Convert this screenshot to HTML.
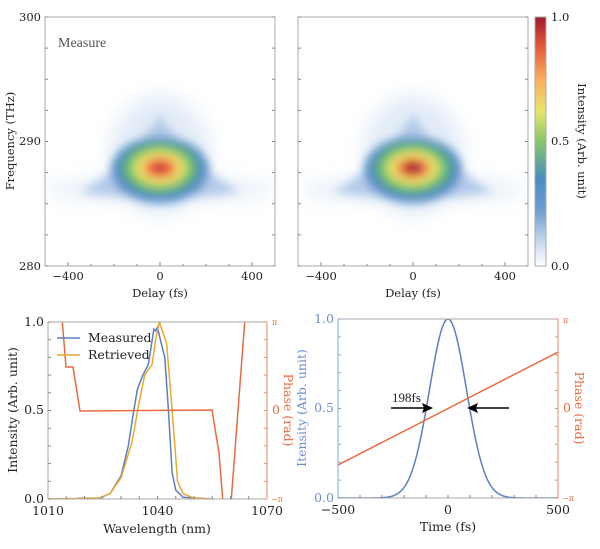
<!DOCTYPE html>
<html><head><meta charset="utf-8"><style>
body{margin:0;background:#fff;width:600px;height:544px;overflow:hidden}
svg text{font-family:"DejaVu Serif","Liberation Serif",serif;font-size:11.5px;fill:#222}
</style></head><body>
<svg id="s" width="600" height="544" viewBox="0 0 600 544" xmlns="http://www.w3.org/2000/svg">
<defs>
<filter id="bl" x="-50%" y="-50%" width="200%" height="200%"><feGaussianBlur stdDeviation="4.5"/></filter>
<filter id="bl2" x="-50%" y="-50%" width="200%" height="200%"><feGaussianBlur stdDeviation="10"/></filter>
<linearGradient id="cb" x1="0" y1="1" x2="0" y2="0">
<stop offset="0" stop-color="#ffffff"/><stop offset="0.1" stop-color="#c6d8ee"/><stop offset="0.22" stop-color="#6f9fd2"/>
<stop offset="0.35" stop-color="#4a8dbf"/><stop offset="0.5" stop-color="#86c66a"/><stop offset="0.62" stop-color="#e8e56a"/>
<stop offset="0.75" stop-color="#fbae5c"/><stop offset="0.88" stop-color="#e35a3e"/><stop offset="1" stop-color="#a31a2c"/>
</linearGradient>
<clipPath id="c1"><rect x="45" y="17" width="230" height="249"/></clipPath>
<clipPath id="c2"><rect x="298" y="17" width="230" height="249"/></clipPath>
<clipPath id="c3"><rect x="48" y="322" width="219" height="177"/></clipPath>
<clipPath id="c4"><rect x="338" y="319" width="220" height="179"/></clipPath>
</defs>
<g id="g"></g>
</svg>
<script>
const g=document.getElementById('g');let h='';
function blob(cx,clip,peak){
 let s=`<g clip-path="url(#${clip})">`;
 s+=`<g filter="url(#bl2)"><ellipse cx="${cx}" cy="190" rx="115" ry="9" fill="#c6d8ee" opacity="0.6"/><ellipse cx="${cx}" cy="155" rx="50" ry="60" fill="#dbe7f5" opacity="0.8"/></g>`;
 s+=`<g filter="url(#bl)">`;
 s+=`<path d="M${cx-80} 192 Q${cx-40} 172 ${cx} 115 Q${cx+40} 172 ${cx+80} 192 Q${cx} 204 ${cx-80} 192Z" fill="#b3cbe9"/>`;
 s+=`<ellipse cx="${cx}" cy="170" rx="49" ry="33" fill="#5a8fca"/>`;
 s+=`<ellipse cx="${cx}" cy="168" rx="40" ry="27" fill="#4f9f8a"/>`;
 s+=`<ellipse cx="${cx}" cy="168" rx="34" ry="23" fill="#7cc46a"/>`;
 s+=`<ellipse cx="${cx}" cy="168" rx="26" ry="17" fill="#e6e66a"/>`;
 s+=`<ellipse cx="${cx}" cy="168" rx="19" ry="12" fill="#f9a85a"/>`;
 s+=`<ellipse cx="${cx}" cy="168" rx="12" ry="7.5" fill="${peak}"/>`;
 s+=`</g></g>`;return s;}
h+=blob(160,'c1','#d9473c');h+=blob(413,'c2','#b8232f');
function frame(x0,y0,w,hh){return `<rect x="${x0}" y="${y0}" width="${w}" height="${hh}" fill="none" stroke="#aaa" stroke-width="1"/>`;}
h+=frame(45,17,230,249)+frame(298,17,230,249);
[[45,68,160,252],[298,321,413,505]].forEach(a=>{const o=a[0];
 [-400,-300,-200,-100,0,100,200,300,400].forEach(v=>{const x=a[2]+v*0.23;h+=`<line x1="${x}" y1="266" x2="${x}" y2="${v%400==0?262:264}" stroke="#888"/>`;});
 [[-400,'−400'],[0,'0'],[400,'400']].forEach(([v,t])=>{h+=`<text x="${a[2]+v*0.23}" y="280" text-anchor="middle">${t}</text>`});
 h+=`<text x="${a[2]}" y="297" text-anchor="middle">Delay (fs)</text>`;
 for(let f=280;f<=300;f+=2.5){const y=266-(f-280)*12.45;h+=`<line x1="${o}" y1="${y}" x2="${o+3}" y2="${y}" stroke="#888"/><line x1="${o+230}" y1="${y}" x2="${o+227}" y2="${y}" stroke="#888"/>`;}
});
[[300,21],[290,145],[280,270]].forEach(([t,y])=>h+=`<text x="41" y="${y}" text-anchor="end">${t}</text>`);
h+=`<text transform="translate(14,141) rotate(-90)" text-anchor="middle">Frequency (THz)</text>`;
h+=`<text x="58" y="47" style="font-family:'Liberation Serif',serif;font-size:14px;fill:#555">Measure</text>`;
h+=`<rect x="535" y="17" width="11" height="249" fill="url(#cb)" stroke="#aaa"/>`;
[['1.0',21],['0.5',145],['0.0',270]].forEach(([t,y])=>h+=`<text x="551" y="${y}">${t}</text>`);
h+=`<text transform="translate(578,141) rotate(90)" text-anchor="middle">Intensity (Arb. unit)</text>`;
const X=l=>48+(l-1010)*3.65,Y=i=>499-i*177;
h+=`<g clip-path="url(#c3)">`;
const meas=[[1010,0],[1018,0],[1018.5,0.005],[1024,0.005],[1027,0.03],[1030,0.13],[1032,0.3],[1033.5,0.5],[1034.5,0.62],[1036,0.7],[1037.5,0.76],[1039,0.96],[1039.5,0.95],[1040,0.97],[1041,0.88],[1042,0.8],[1043,0.5],[1044,0.15],[1045,0.05],[1047,0.01],[1055,0]];
const ret=[[1010,0],[1024,0.005],[1027,0.03],[1030,0.12],[1033,0.32],[1035,0.55],[1036.5,0.7],[1038.5,0.76],[1039.5,0.9],[1040.5,1.0],[1042.5,0.88],[1044,0.5],[1045.5,0.1],[1047,0.03],[1050,0.005],[1055,0]];
h+=`<polyline points="${meas.map(p=>X(p[0])+','+Y(p[1])).join(' ')}" fill="none" stroke="#5b7fbf" stroke-width="1.5"/>`;
h+=`<polyline points="${ret.map(p=>X(p[0])+','+Y(p[1])).join(' ')}" fill="none" stroke="#e8a92c" stroke-width="1.5"/>`;
h+=`<polyline points="62,318 66,367 73,367 80,411 212,410 219,453 223,503 231,503 245,318" fill="none" stroke="#ea6a3f" stroke-width="1.5"/>`;
h+=`</g>`;
h+=`<line x1="48" y1="322" x2="48" y2="499" stroke="#aaa"/><line x1="48" y1="499" x2="267" y2="499" stroke="#aaa"/><line x1="48" y1="322" x2="267" y2="322" stroke="#aaa"/><line x1="267" y1="322" x2="267" y2="499" stroke="#ea8a66"/>`;
for(let i=0;i<=10;i++){const y=499-i*17.7;h+=`<line x1="48" y1="${y}" x2="51" y2="${y}" stroke="#888"/><line x1="267" y1="${y}" x2="264" y2="${y}" stroke="#ea8a66"/>`;}
for(let l=1015;l<1070;l+=5){h+=`<line x1="${X(l)}" y1="499" x2="${X(l)}" y2="496" stroke="#888"/>`;}
[['1.0',326],['0.5',414],['0.0',503]].forEach(([t,y])=>h+=`<text x="44" y="${y}" text-anchor="end" style="font-size:12.5px">${t}</text>`);
[[1010,'1010'],[1040,'1040'],[1070,'1070']].forEach(([v,t])=>h+=`<text x="${X(v)}" y="515" text-anchor="middle" style="font-size:12.5px">${t}</text>`);
h+=`<text x="157" y="533" text-anchor="middle" style="font-size:12.5px">Wavelength (nm)</text>`;
h+=`<text transform="translate(17,410) rotate(-90)" text-anchor="middle" style="font-size:12.5px">Intensity (Arb. unit)</text>`;
h+=`<text x="272" y="325" style="font-size:8px;fill:#ea6a3f">π</text><text x="272" y="414" style="fill:#ea6a3f;font-size:12.5px">0</text><text x="271" y="502" style="font-size:8px;fill:#ea6a3f">−π</text>`;
h+=`<text transform="translate(284,410) rotate(90)" text-anchor="middle" style="fill:#ea6a3f;font-size:12.5px">Phase (rad)</text>`;
h+=`<line x1="57" y1="338" x2="80" y2="338" stroke="#5b7fbf" stroke-width="1.5"/><text x="88" y="342" style="font-size:12.5px">Measured</text>`;
h+=`<line x1="57" y1="355" x2="80" y2="355" stroke="#e8a92c" stroke-width="1.5"/><text x="88" y="359" style="font-size:12.5px">Retrieved</text>`;
const TX=t=>448+t*0.22,TY=v=>498-v*179;
let pts=[];for(let t=-500;t<=500;t+=5){pts.push(TX(t)+','+TY(Math.exp(-t*t/(2*84*84))));}
h+=`<g clip-path="url(#c4)"><polyline points="${pts.join(' ')}" fill="none" stroke="#5b7fbf" stroke-width="1.5"/>`;
h+=`<line x1="338" y1="465" x2="558" y2="352" stroke="#ea6a3f" stroke-width="1.5"/></g>`;
h+=`<rect x="338" y="319" width="220" height="179" fill="none" stroke="#aaa"/><line x1="338" y1="319" x2="338" y2="498" stroke="#8aa6d4"/><line x1="558" y1="319" x2="558" y2="498" stroke="#ea8a66"/>`;
for(let i=0;i<=10;i++){const y=498-i*17.9;h+=`<line x1="338" y1="${y}" x2="341" y2="${y}" stroke="#8aa6d4"/><line x1="558" y1="${y}" x2="555" y2="${y}" stroke="#ea8a66"/>`;}
for(let t=-400;t<500;t+=100){h+=`<line x1="${TX(t)}" y1="498" x2="${TX(t)}" y2="495" stroke="#888"/>`;}
[['1.0',323],['0.5',412],['0.0',502]].forEach(([t,y])=>h+=`<text x="334" y="${y}" text-anchor="end" style="fill:#6b8fc9;font-size:12.5px">${t}</text>`);
[[-500,'−500'],[0,'0'],[500,'500']].forEach(([v,t])=>h+=`<text x="${TX(v)}" y="514" text-anchor="middle" style="font-size:12.5px">${t}</text>`);
h+=`<text x="448" y="531" text-anchor="middle" style="font-size:12.5px">Time (fs)</text>`;
h+=`<text transform="translate(306,408) rotate(-90)" text-anchor="middle" style="fill:#6b8fc9;font-size:12.5px">Itensity (Arb. unit)</text>`;
h+=`<text x="563" y="323" style="font-size:8px;fill:#ea6a3f">π</text><text x="563" y="412" style="fill:#ea6a3f;font-size:12.5px">0</text><text x="562" y="501" style="font-size:8px;fill:#ea6a3f">−π</text>`;
h+=`<text transform="translate(575,408) rotate(90)" text-anchor="middle" style="fill:#ea6a3f;font-size:12.5px">Phase (rad)</text>`;
h+=`<line x1="391" y1="408" x2="424" y2="408" stroke="#000" stroke-width="1.5"/><polygon points="433,408 422,403 424,408 422,413" fill="#000"/>`;
h+=`<line x1="509" y1="408" x2="476" y2="408" stroke="#000" stroke-width="1.5"/><polygon points="467,408 478,403 476,408 478,413" fill="#000"/>`;
h+=`<text x="392" y="402" style="font-family:'Liberation Serif',serif;font-size:13px">198fs</text>`;
g.innerHTML=h;
</script>
</body></html>
